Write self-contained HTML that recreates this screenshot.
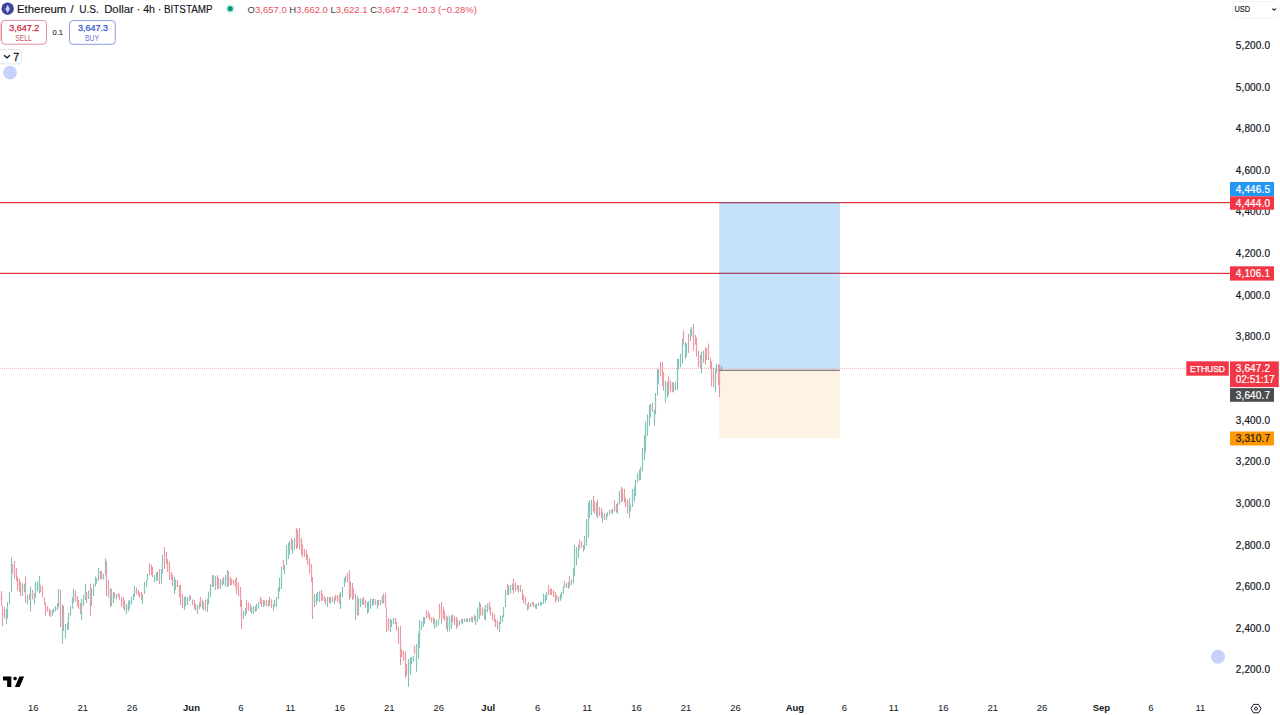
<!DOCTYPE html>
<html><head><meta charset="utf-8">
<style>
html,body{margin:0;padding:0;background:#fff;width:1280px;height:715px;overflow:hidden}
svg{display:block;font-family:"Liberation Sans",sans-serif}
</style></head><body>
<svg width="1280" height="715" viewBox="0 0 1280 715">
<rect x="0" y="0" width="1280" height="715" fill="#fff"/>
<!-- position tool -->
<rect x="719.2" y="202.6" width="120.7" height="166" fill="#c5e2fa"/>
<rect x="719.2" y="370.9" width="120.7" height="67.6" fill="#fef2e2"/>
<!-- red lines -->
<rect x="0" y="202" width="1230" height="1.2" fill="#e0303f"/>
<rect x="0" y="272.8" width="1230" height="1.2" fill="#e0303f"/>
<rect x="719.2" y="202" width="120.7" height="1.2" fill="#7a5a8a" fill-opacity=".6"/>
<rect x="719.2" y="272.8" width="120.7" height="1.2" fill="#7a5a8a" fill-opacity=".6"/>
<!-- dotted price line -->
<line x1="0" y1="368.4" x2="1186" y2="368.4" stroke="#f23645" stroke-width="1" stroke-dasharray="1 1" stroke-opacity=".4"/>
<!-- candles -->
<path d="M6.5 609V624M7.5 602V618.5M9.5 592V604.5M11.5 557.7V592M22.5 583.6V596M24.5 583.6V592M27.5 594.8V604.5M30.5 586.4V611.5M34.5 593.4V604.5M35.5 582V597.5M37.5 581.2V591.5M39.5 576V593.4M52.5 610V615.7M53.5 608.7V613M55.5 606V611.5M57.5 603V610M58.5 589V607.3M62.5 604.5V643.7M65.5 624V638M67.5 622.7V629.7M68.5 613V629.7M70.5 606V615.7M72.5 597.5V608.7M73.5 589V603M81.5 599V620M83.5 594.8V606M85.5 583.6V600M88.5 590.6V599M91.5 589V606M93.5 583.6V596M95.5 576.6V586.4M96.5 578V583.6M98.5 568V580.8M103.5 573.8V579.4M105.5 558.4V575.2M110.5 587.8V607.3M113.5 592V603M116.5 594.1V599.5M126.5 604V614M128.5 600.7V611.2M129.5 600V609M131.5 596.7V604.8M133.5 594V600M134.5 586V597M142.5 594V604M144.5 582V594M146.5 579.9V587.2M147.5 574V580M154.5 575V582M156.5 572.3V580.9M157.5 571.6V580.8M161.5 569V584M162.5 554.7V573.7M174.5 577V594M175.5 579.5V590.1M184.5 597V610M185.5 596.4V606.3M187.5 597V605M189.5 595V601.1M197.5 605V614M199.5 602.4V609.2M203.5 602V610M207.5 599V612M208.5 591.7V604.4M210.5 584V597M212.5 575V587M215.5 576.1V589.8M220.5 579V589M222.5 579.7V585.7M225.5 575V586.8M227.5 570V587M243.5 611V619M245.5 608V615.9M251.5 606.7V613.6M253.5 606V614M255.5 606V611.5M256.5 604V611M258.5 602.2V608.7M263.5 600V607M268.5 600.5V606.6M273.5 604V611M274.5 599.9V606.7M276.5 597V607M278.5 587V599M279.5 577.7V591.6M281.5 567V589M284.5 565V574M286.5 545V565M288.5 543V559M289.5 541V554.6M292.5 540V554M294.5 538.2V549.6M314.5 594V607M316.5 593.4V604.7M317.5 592V601M319.5 591.4V602.1M327.5 597V607M330.5 597V604M334.5 597V604M340.5 592V609M342.5 587V597M344.5 578V587M345.5 575.7V582.5M355.5 593.6V620M358.5 598.6V615M360.5 598.6V607M362.5 598.2V604.8M367.5 602V613.7M368.5 601.2V612.4M370.5 598.6V608.7M372.5 599V606M373.5 598.6V605M377.5 600V608.7M380.5 600V605M382.5 595.6V603.4M390.5 618.7V632M391.5 620V627M393.5 618V623.9M408.5 659V686.8M410.5 657.5V674.8M411.5 657V664M413.5 655.6V662M416.5 644V671.7M418.5 633.4V658.8M419.5 620V648M421.5 621.4V629.9M423.5 617V627M424.5 617V624M434.5 618.7V628.8M436.5 619.9V627.2M438.5 618.7V625.4M447.5 616.8V631.5M449.5 615.5V631.4M451.5 615.6V629.1M459.5 620.5V625.6M462.5 619V624M464.5 618.7V622.1M467.5 619V622.2M469.5 618V622M472.5 616.8V622.5M475.5 616V625M477.5 607.5V621.9M479.5 602V619M484.5 609V619M485.5 605V620.5M487.5 603.5V612.2M499.5 622V632M500.5 615.5V624M502.5 615.5V622M503.5 607V617M505.5 590V607M508.5 585.2V595.2M510.5 585V593.7M512.5 583.6V590M518.5 585.6V592.4M527.5 603.8V610.5M530.5 603.4V607.2M535.5 604.3V608.5M536.5 603.8V609M538.5 603V606M540.5 602V605.5M541.5 602V605.4M543.5 593.7V603.8M545.5 594.9V602.7M546.5 592V600M558.5 596.5V602M560.5 594.1V600.8M561.5 592V598.7M563.5 586.4V594M566.5 583.1V588.1M568.5 582V588.6M571.5 579.7V585M573.5 568.4V583.2M574.5 545V576M576.5 546.9V565.2M578.5 545V558M583.5 545V551.7M584.5 536V549.5M586.5 519V545.4M588.5 502.5V538M589.5 500V518M591.5 499.9V515M596.5 502.5V516.4M602.5 511.5V522.6M606.5 513.7V520M607.5 512.2V516.5M609.5 510V514.8M612.5 509V513.7M617.5 502.5V513.7M619.5 491V504.7M629.5 498V518M630.5 504.7V511.5M632.5 489V507M634.5 486.9V501.6M635.5 480V495.8M637.5 473.4V482.4M639.5 469.8V480.4M640.5 466.7V480M642.5 447.8V471.5M644.5 435.3V460M645.5 421.6V452.5M647.5 414.5V436M649.5 405V426M650.5 403.8V417.3M654.5 409.8V426M655.5 393V414.5M657.5 369V395.5M658.5 369.6V384.2M665.5 381V402.6M667.5 381.6V397.5M673.5 382.7V392.5M675.5 381.6V390.3M677.5 359V390M678.5 359V369.6M680.5 353.6V367.3M682.5 338.7V363.7M685.5 342.3V359M686.5 343.5V356.6M690.5 329.3V341M691.5 326.9V336.4M701.5 351.8V373.2M703.5 350.7V362.7M715.5 368.4V392.2M716.5 363.7V373.2M721.5 366V370.8" stroke="#3f978c" stroke-width="1" stroke-opacity=".65" fill="none"/><path d="M-0.5 591.2V603.7M1.5 591V606M2.5 606V626M4.5 606.9V618.3M12.5 564V573.8M14.5 561V579M16.5 568V580.8M17.5 576.6V590.6M19.5 579V592M20.5 582V596M25.5 576.6V603M29.5 593.4V600M32.5 589.9V599.3M40.5 585V592M42.5 586.4V597.5M44.5 597.5V604.5M45.5 603V615.7M47.5 606V611.5M49.5 608.7V615.7M50.5 610V617M60.5 590V627M63.5 606V631M75.5 590.6V601.7M77.5 596V606M78.5 600V608.7M80.5 603V614M86.5 592V603M90.5 583.6V615.7M100.5 571V579.4M101.5 571V579.4M106.5 561V596M108.5 580.3V597.5M111.5 589V606M114.5 592.3V598.8M118.5 593V597M119.5 594.6V599.8M121.5 597.4V606.6M123.5 597V609M124.5 600.3V610.6M136.5 587.5V594.4M138.5 590V596M139.5 592.2V597.7M141.5 592V600M149.5 563V575M151.5 564.5V575.2M152.5 567V577M159.5 569V584M164.5 547V569M166.5 552V564M167.5 559.3V572M169.5 562V580M171.5 572V580M172.5 574.9V586.3M177.5 580V587M179.5 585V597.2M180.5 585V605M182.5 593.8V608.3M190.5 596V600M192.5 599.4V605.3M194.5 600V609M195.5 603.9V610.8M200.5 597V607M202.5 599.7V608.8M205.5 599.6V610.8M213.5 575.3V586.9M217.5 575V589M218.5 578V588.8M223.5 577V584M228.5 571.5V586M230.5 576.9V585.5M231.5 579V585M233.5 579.9V584.9M235.5 579V587M236.5 577V594M238.5 582.1V596.1M240.5 587V607M241.5 600V629M246.5 600V614M248.5 602.6V610.9M250.5 604V612M260.5 597V604M261.5 599.4V606.6M264.5 600.4V605.7M266.5 600V606M269.5 597V606M271.5 599.3V607.9M283.5 560V570M291.5 538V550M296.5 528V549M297.5 529.8V548.2M299.5 528V550M301.5 538V555M302.5 544.4V557.2M304.5 549V557M306.5 550V560M307.5 554.1V564.8M309.5 558.5V573.6M311.5 564V582M312.5 577V619M321.5 590V601M322.5 593.8V600.7M324.5 596V602M325.5 598.2V604.6M329.5 596.8V602.7M332.5 596.7V602.2M335.5 594.7V600.6M337.5 595V602M339.5 593.9V604M347.5 572.6V582M349.5 570V600M350.5 581.6V597.8M352.5 583V600M353.5 588.5V598.6M357.5 595.7V615.8M363.5 597V605M365.5 599.5V608M375.5 599.2V604.8M378.5 599.8V605.5M383.5 593.6V603.6M385.5 592.7V607M386.5 607V632M388.5 618.2V630.8M395.5 618V624M396.5 622V630.5M398.5 627V644M400.5 626V665M401.5 649V657M403.5 650.6V660.7M405.5 651.6V678M406.5 664V675.8M414.5 645.6V654M426.5 610V618.7M428.5 611.6V617.9M429.5 613.7V620M431.5 617.4V622.6M433.5 617V624M439.5 603.6V618.7M441.5 602V624M443.5 607V619M444.5 610.5V620.9M446.5 615.5V629M452.5 614V622M454.5 615.6V625.2M456.5 617V629M457.5 619.2V626.9M461.5 619V623.3M466.5 618V622M471.5 616.7V621.6M474.5 614.7V620.5M480.5 603.8V615.5M482.5 607.2V615.7M489.5 602V610.5M490.5 607V615.5M492.5 612.2V620M494.5 614V622M495.5 619V627M497.5 620.3V629.7M507.5 583.6V595M513.5 578.6V593.7M515.5 582.9V591.3M517.5 585V590M520.5 585V592M522.5 590V600M523.5 594.5V603.2M525.5 597V605M528.5 602V609M532.5 602V605.4M533.5 602V607M548.5 585V595M550.5 588.7V595M551.5 588.4V594.9M553.5 590V597M555.5 592V603M556.5 594.9V600.4M564.5 580.8V587.5M569.5 576V587.5M579.5 539.4V549.5M581.5 541.1V547.8M593.5 496V511.5M594.5 501V513.7M597.5 500V518M599.5 507V516M601.5 507.9V518.1M604.5 512.9V519.8M611.5 509.6V513.4M614.5 500V511.5M616.5 504V512.5M621.5 486.8V502.5M622.5 488.8V501.2M624.5 489V502.5M625.5 498V507M627.5 499.7V513.4M652.5 402.6V412M660.5 362V376.5M662.5 362V386M663.5 371.8V390.8M668.5 376.5V395.5M670.5 380.4V392.2M672.5 382V391.8M683.5 330.4V344.7M688.5 334V353M693.5 323.9V350.6M695.5 335V344.7M696.5 337.6V356.6M698.5 350.6V367.3M700.5 354.8V368M705.5 347V364.9M706.5 348.3V360M708.5 343.5V360M710.5 357.8V368.4M711.5 361.3V386.3M713.5 368.4V387.4M718.5 364.2V385.3M719.5 364.9V397" stroke="#d85a68" stroke-width="1" stroke-opacity=".65" fill="none"/><path d="M6.5 611.7V620.8M7.5 606.7V614.9M9.5 595.4V601.1M11.5 561.6V580.5M22.5 586.4V594.3M24.5 584.3V589.8M27.5 597.6V603M30.5 592.9V602.8M34.5 594.9V602M35.5 584V595.2M37.5 581.8V588.6M39.5 578.8V589.2M52.5 611.6V614.5M53.5 609.2V611.7M55.5 607.5V610.7M57.5 604.6V608.3M58.5 590.2V605.1M62.5 615.7V639.1M65.5 627.7V636.3M67.5 624.6V628.9M68.5 615.3V626.1M70.5 608.7V613.4M72.5 598.4V606.8M73.5 590.1V600.8M81.5 601.9V617M83.5 596.1V604.8M85.5 587.4V598.3M88.5 593V597.2M91.5 592V602.5M93.5 585.4V592.2M95.5 578.8V584.2M96.5 578.8V581.7M98.5 570.9V576.9M103.5 575.1V578.7M105.5 559.9V572.4M110.5 590.2V604.2M113.5 595.2V601.2M116.5 595.7V598.6M126.5 605.5V612.8M128.5 601.3V610M129.5 601V607.4M131.5 598.2V602.8M133.5 595.3V598.3M134.5 589V593.9M142.5 596.1V600.8M144.5 585V590.6M146.5 581.2V586.2M147.5 575.6V578.6M154.5 575.4V580.9M156.5 573.5V579.8M157.5 573.4V578M161.5 569.8V580.7M162.5 559.2V568M174.5 579.9V590.7M175.5 582V587.3M184.5 597.8V608.7M185.5 598.6V604.6M187.5 598.8V602.8M189.5 596V599.7M197.5 607.6V611.3M199.5 603.2V607.8M203.5 603.4V608.9M207.5 601.3V608M208.5 594.5V600.3M210.5 587.6V594.9M212.5 575.6V585.7M215.5 577.3V587.4M220.5 581.6V586.1M222.5 581.4V584.9M225.5 576.7V584.8M227.5 573.4V581.1M243.5 612.5V616.3M245.5 608.5V613.7M251.5 607.6V612.1M253.5 607.9V612.6M255.5 606.6V609.6M256.5 604.9V609.2M258.5 603.2V607.1M263.5 600.7V605.4M268.5 601.3V605.8M273.5 605.7V608.7M274.5 600.9V605.3M276.5 598.4V604.7M278.5 587.8V596.8M279.5 581.8V589.3M281.5 570.9V586.1M284.5 566.1V572.6M286.5 548V561.8M288.5 547.6V555.6M289.5 544.6V550.3M292.5 543.8V550.1M294.5 540.4V547.1M314.5 595.5V605.3M316.5 595.9V601.8M317.5 593.6V599.9M319.5 592.9V599.5M327.5 598.1V604.8M330.5 597.9V602.1M334.5 598.1V602.1M340.5 595.8V605.5M342.5 589.5V595.5M344.5 579.6V584.4M345.5 577.7V581.5M355.5 599.3V614.6M358.5 600.3V611.7M360.5 599.3V604.1M362.5 598.6V604M367.5 605.3V609.6M368.5 602.3V610.3M370.5 601V605.3M372.5 600.5V605.3M373.5 599.5V603.8M377.5 601.2V607.2M380.5 600.7V604.2M382.5 597.6V601M390.5 620.7V630.6M391.5 621.7V624.9M393.5 618.4V623.2M408.5 660.6V677.5M410.5 660.4V672M411.5 659V661.6M413.5 656.3V660.7M416.5 646.7V662.5M418.5 639.3V651.1M419.5 626.8V639.4M421.5 622.6V627.7M423.5 618.4V625.2M424.5 617.5V621.9M434.5 619.4V627.6M436.5 621.6V625.6M438.5 619.4V624M447.5 618.3V627.3M449.5 617.3V628.8M451.5 619.3V627.3M459.5 621.8V624.5M462.5 619.6V623.4M464.5 619.1V621.7M467.5 619.4V621.1M469.5 618.6V620.7M472.5 617.2V620.6M475.5 617.3V623.6M477.5 608.9V619.9M479.5 605.4V616.2M484.5 610V616.3M485.5 606.6V617.7M487.5 605.1V609.6M499.5 623.9V630.2M500.5 616.8V622.4M502.5 617.4V619.9M503.5 608V615.1M505.5 591.7V602.2M508.5 587.8V593.2M510.5 587.4V591.9M512.5 584.2V588.6M518.5 586.8V591.1M527.5 604.3V609.5M530.5 604.5V606.8M535.5 604.7V607.3M536.5 605.2V608M538.5 603.3V605.1M540.5 602.7V604.8M541.5 602.3V604.7M543.5 596.5V601M545.5 596.3V601.8M546.5 592.5V597.7M558.5 597.1V600.8M560.5 595.7V598.8M561.5 592.6V597.3M563.5 587V592.3M566.5 583.9V587.5M568.5 582.4V587.1M571.5 581V583.5M573.5 569.3V579.8M574.5 549.5V569M576.5 548.4V559M578.5 548.9V553.9M583.5 546.9V549.4M584.5 539.3V547.6M586.5 520.8V536.6M588.5 511V531.3M589.5 504.9V515.5M591.5 503.7V512.4M596.5 505V514.1M602.5 512.5V519M606.5 515V518.5M607.5 513.4V515.7M609.5 510.9V513.7M612.5 509.7V512.5M617.5 504.3V510.4M619.5 494.2V502.7M629.5 501.2V512.9M630.5 506.6V509.9M632.5 490.9V504.6M634.5 487.8V497.8M635.5 482.2V494.2M637.5 474.7V481.3M639.5 471.9V478.7M640.5 468V476.7M642.5 451.8V465.4M644.5 442.3V456.7M645.5 424.3V447.5M647.5 419V433.3M649.5 410.2V419.3M650.5 405.4V414.6M654.5 412V422.1M655.5 396.5V408.9M657.5 375.2V386.6M658.5 373.7V381.8M665.5 385.1V400.4M667.5 383V392.2M673.5 383.9V390.8M675.5 383.9V389.3M677.5 366.1V380.8M678.5 361.8V368.5M680.5 355.8V363.3M682.5 342.8V356.6M685.5 343.3V356.4M686.5 346.6V354.2M690.5 330.7V337.7M691.5 328.4V334.1M701.5 357.9V367.1M703.5 352.3V359.3M715.5 373.9V387.2M716.5 364.9V370.9M721.5 366.3V370.1" stroke="#8ad6ca" stroke-width="1.6" stroke-opacity=".5" fill="none"/><path d="M-0.5 593.6V600.1M1.5 595.2V602.8M2.5 610.1V621.5M4.5 608.9V615.2M12.5 565.9V570.5M14.5 565.7V576.6M16.5 569V578.1M17.5 577.6V588.4M19.5 579.9V588.5M20.5 585.4V591.5M25.5 583.7V594M29.5 594.4V598.5M32.5 590.7V597.3M40.5 585.4V590.7M42.5 588.7V595M44.5 598V602.1M45.5 606.1V611.3M47.5 606.4V610.6M49.5 609.1V613.6M50.5 610.8V616.1M60.5 598.2V619.4M63.5 611.2V623.5M75.5 591.6V600.5M77.5 597V604.2M78.5 601.1V606.2M80.5 604.3V611.5M86.5 594.1V601.4M90.5 586.1V605.9M100.5 572.3V577.8M101.5 571.5V578.3M106.5 563.5V585.1M108.5 584.9V592.9M111.5 590.5V602.4M114.5 594.2V597.3M118.5 593.5V596.2M119.5 594.8V598.8M121.5 599V604.5M123.5 598.2V606.3M124.5 600.8V608.9M136.5 588.5V593.1M138.5 591.8V595.2M139.5 593.5V596.3M141.5 592.5V597.5M149.5 566V571.3M151.5 566.6V571.7M152.5 569.2V574.3M159.5 572.1V579.9M164.5 551V563.2M166.5 552.8V560.6M167.5 560.7V570.5M169.5 564.1V574.9M171.5 572.8V577.7M172.5 578.3V583.8M177.5 581.4V585.2M179.5 585.8V595.5M180.5 587.3V599.3M182.5 595.7V604.8M190.5 596.7V599.5M192.5 601V604.4M194.5 602.7V606M195.5 604.3V609.3M200.5 598V603.6M202.5 600.7V606.5M205.5 602.8V609.3M213.5 577.3V584.4M217.5 576.9V586.5M218.5 580.8V587.7M223.5 578.6V581.7M228.5 573.6V583M230.5 578V584.5M231.5 579.5V583.1M233.5 580.5V583.3M235.5 579.9V585.7M236.5 580V591.5M238.5 584.1V591.3M240.5 592.4V600.9M241.5 606V619.5M246.5 602.3V610M248.5 604.3V609.5M250.5 604.5V609.3M260.5 597.6V603M261.5 600.1V604.2M264.5 602V604.6M266.5 600.5V605.1M269.5 597.7V604.6M271.5 600.2V605.8M283.5 562.1V566.8M291.5 538.7V548.7M296.5 529.1V544.8M297.5 534.5V542.4M299.5 534.4V546.4M301.5 539.3V552.6M302.5 546.7V553.7M304.5 551.3V554.8M306.5 552.1V557.1M307.5 555.9V562.3M309.5 559.4V569.1M311.5 565.9V576.1M312.5 585.9V611.6M321.5 591.2V598.2M322.5 594.2V599.5M324.5 597V600M325.5 599.5V602.5M329.5 597.5V600.7M332.5 597V601M335.5 595.4V599M337.5 597V600.9M339.5 594.5V602.1M347.5 573.8V579.1M349.5 573.2V595.3M350.5 585.5V595M352.5 587.9V596.2M353.5 589.5V597M357.5 601.5V613.1M363.5 598.2V602.4M365.5 601.8V605.6M375.5 599.7V604.2M378.5 600.3V603.6M383.5 595.2V602.5M385.5 595.1V604.2M386.5 614V628.3M388.5 619.9V626.7M395.5 619.7V623M396.5 624V627.7M398.5 629.3V641.1M400.5 637.3V655.1M401.5 649.9V654.8M403.5 651.9V659M405.5 652.9V670.4M406.5 667.3V672.7M414.5 646.9V652.1M426.5 610.9V616.2M428.5 612.3V617.2M429.5 614.1V618.5M431.5 618.1V620.8M433.5 618.9V621.6M439.5 605.9V614.8M441.5 607.2V617.1M443.5 609.6V617.4M444.5 613.2V619.1M446.5 618.1V626.4M452.5 615.6V620.5M454.5 617V621.9M456.5 618.3V625.4M457.5 621.5V626M461.5 620.1V621.9M466.5 619.2V621M471.5 617.3V620.2M474.5 615.9V619M480.5 606.3V613.7M482.5 607.7V614.1M489.5 602.6V609.4M490.5 608.3V613.5M492.5 613.8V619M494.5 614.7V619.8M495.5 620.2V625.6M497.5 621.5V626.5M507.5 584.2V591.3M513.5 579.4V590.1M515.5 584.7V588.6M517.5 585.4V588.7M520.5 585.6V590.8M522.5 591.8V596.7M523.5 595.2V601.3M525.5 599V602.3M528.5 604.1V607.5M532.5 602.5V604.3M533.5 603V605.5M548.5 587.6V593.7M550.5 589.9V593.4M551.5 589.2V593.6M553.5 591.4V595.6M555.5 593.8V600.7M556.5 595.2V599M564.5 581.4V586.1M569.5 578.4V586.1M579.5 542V548M581.5 543.1V546.3M593.5 497.3V508M594.5 504.6V511.8M597.5 502.3V516M599.5 507.9V514.7M601.5 510.8V515.3M604.5 514.6V518.9M611.5 509.9V512.1M614.5 502.9V509.6M616.5 505.7V510.9M621.5 487.8V497.7M622.5 490.2V498M624.5 493V499.2M625.5 499.9V505.4M627.5 500.4V511.9M652.5 403.1V409.5M660.5 362.9V373.1M662.5 365.6V382.2M663.5 373V385.2M668.5 378.4V390.7M670.5 382.5V389.1M672.5 384.5V390.4M683.5 331.9V342.9M688.5 338.3V347.1M693.5 330.5V344.4M695.5 336.1V342.2M696.5 343.1V353.7M698.5 355.1V365.6M700.5 356.3V365.9M705.5 351.8V361.6M706.5 349.6V356.2M708.5 346.9V355.5M710.5 360.1V364.7M711.5 365.5V378.6M713.5 372.7V381.4M718.5 366.4V379.9M719.5 367.1V386.5" stroke="#f5a3ad" stroke-width="1.6" stroke-opacity=".5" fill="none"/>
<!-- entry line -->
<rect x="719.2" y="369.7" width="120.7" height="1.1" fill="#5d606b"/>
<!-- header -->
<circle cx="7.65" cy="8.7" r="6.2" fill="#3d4599"/>
<path d="M7.65 4.8L5.4 9L7.65 13.1L9.9 9Z" fill="#c9cdfc"/>
<g font-size="11" fill="#131722" stroke="#131722" stroke-width=".15">
<text x="17.0" y="13.1" textLength="49.3" lengthAdjust="spacingAndGlyphs">Ethereum</text>
<text x="70.4" y="13.1">/</text>
<text x="79.2" y="13.1" textLength="19.6" lengthAdjust="spacingAndGlyphs">U.S.</text>
<text x="104.2" y="13.1" textLength="29.6" lengthAdjust="spacingAndGlyphs">Dollar</text>
<text x="138.3" y="13.1" text-anchor="middle">·</text>
<text x="143.2" y="13.1" textLength="11.8" lengthAdjust="spacingAndGlyphs">4h</text>
<text x="159.6" y="13.1" text-anchor="middle">·</text>
<text x="164.0" y="13.1" textLength="48.6" lengthAdjust="spacingAndGlyphs">BITSTAMP</text>
</g>
<circle cx="230.2" cy="8.75" r="5" fill="#089981" fill-opacity=".12"/>
<circle cx="230.2" cy="8.75" r="2.7" fill="#089981"/>
<text x="247.6" y="12.9" font-size="9.5" fill="#e84f5e"><tspan fill="#3b3e47">O</tspan>3,657.0 <tspan fill="#3b3e47">H</tspan>3,662.0 <tspan fill="#3b3e47">L</tspan>3,622.1 <tspan fill="#3b3e47">C</tspan>3,647.2 −10.3 (−0.28%)</text>
<!-- sell / buy -->
<rect x="0" y="22.7" width="0.9" height="18.3" fill="#f5c4cb"/>
<rect x="1.5" y="20.4" width="45" height="23.8" rx="3.5" fill="#fff" stroke="#e0909d" stroke-width="1"/>
<text x="24.2" y="31.1" font-size="9" fill="#d02c40" stroke="#d02c40" stroke-width=".25" text-anchor="middle">3,647.2</text>
<text x="15.2" y="40.9" font-size="8.6" fill="#c65466" textLength="16.6" lengthAdjust="spacingAndGlyphs">SELL</text>
<text x="57.7" y="34.9" font-size="7.5" fill="#2a2e39" stroke="#2a2e39" stroke-width=".15" text-anchor="middle">0.1</text>
<rect x="69.5" y="20.6" width="45.8" height="23.7" rx="3.5" fill="#fff" stroke="#8d9de0" stroke-width="1"/>
<text x="93.1" y="31.1" font-size="9" fill="#3356d6" stroke="#3356d6" stroke-width=".25" text-anchor="middle">3,647.3</text>
<text x="85.0" y="40.9" font-size="8.6" fill="#6a7dd0" textLength="14.2" lengthAdjust="spacingAndGlyphs">BUY</text>
<!-- collapse -->
<rect x="-1" y="49.6" width="22.3" height="14.3" rx="2" fill="#fff" stroke="#e0e3eb" stroke-width="1"/>
<path d="M4 55.3L7 57.8L10 55.3" fill="none" stroke="#131722" stroke-width="1.3"/>
<text x="13.3" y="60.8" font-size="10.5" fill="#131722" stroke="#131722" stroke-width=".3">7</text>
<circle cx="10" cy="72.6" r="6.9" fill="#c7d1fb"/>
<circle cx="1218" cy="656.8" r="7" fill="#c7d1fb"/>
<!-- TV logo -->
<g transform="translate(3 674.1) scale(0.595 0.5833)" fill="#000">
<path d="M14 22H7V11H0V4h14v18zM28 22h-8l7.5-18h8L28 22z"/><circle cx="20.3" cy="7.7" r="3.1"/>
</g>
<!-- price axis -->
<text x="1270.2" y="48.95" font-size="10" fill="#131722" stroke="#131722" stroke-width=".2" letter-spacing=".15" text-anchor="end">5,200.0</text>
<text x="1270.2" y="90.58" font-size="10" fill="#131722" stroke="#131722" stroke-width=".2" letter-spacing=".15" text-anchor="end">5,000.0</text>
<text x="1270.2" y="132.21" font-size="10" fill="#131722" stroke="#131722" stroke-width=".2" letter-spacing=".15" text-anchor="end">4,800.0</text>
<text x="1270.2" y="173.84" font-size="10" fill="#131722" stroke="#131722" stroke-width=".2" letter-spacing=".15" text-anchor="end">4,600.0</text>
<text x="1270.2" y="215.47" font-size="10" fill="#131722" stroke="#131722" stroke-width=".2" letter-spacing=".15" text-anchor="end">4,400.0</text>
<text x="1270.2" y="257.10" font-size="10" fill="#131722" stroke="#131722" stroke-width=".2" letter-spacing=".15" text-anchor="end">4,200.0</text>
<text x="1270.2" y="298.73" font-size="10" fill="#131722" stroke="#131722" stroke-width=".2" letter-spacing=".15" text-anchor="end">4,000.0</text>
<text x="1270.2" y="340.36" font-size="10" fill="#131722" stroke="#131722" stroke-width=".2" letter-spacing=".15" text-anchor="end">3,800.0</text>
<text x="1270.2" y="423.62" font-size="10" fill="#131722" stroke="#131722" stroke-width=".2" letter-spacing=".15" text-anchor="end">3,400.0</text>
<text x="1270.2" y="465.25" font-size="10" fill="#131722" stroke="#131722" stroke-width=".2" letter-spacing=".15" text-anchor="end">3,200.0</text>
<text x="1270.2" y="506.88" font-size="10" fill="#131722" stroke="#131722" stroke-width=".2" letter-spacing=".15" text-anchor="end">3,000.0</text>
<text x="1270.2" y="548.51" font-size="10" fill="#131722" stroke="#131722" stroke-width=".2" letter-spacing=".15" text-anchor="end">2,800.0</text>
<text x="1270.2" y="590.14" font-size="10" fill="#131722" stroke="#131722" stroke-width=".2" letter-spacing=".15" text-anchor="end">2,600.0</text>
<text x="1270.2" y="631.77" font-size="10" fill="#131722" stroke="#131722" stroke-width=".2" letter-spacing=".15" text-anchor="end">2,400.0</text>
<text x="1270.2" y="673.40" font-size="10" fill="#131722" stroke="#131722" stroke-width=".2" letter-spacing=".15" text-anchor="end">2,200.0</text>
<rect x="1230" y="182" width="44" height="14.3" fill="#2196f3"/><text x="1270.2" y="192.70" font-size="10" fill="#fff" stroke="#fff" stroke-width=".2" letter-spacing=".15" text-anchor="end">4,446.5</text>
<rect x="1230" y="196.3" width="44" height="13.4" fill="#f23645"/><text x="1270.2" y="206.55" font-size="10" fill="#fff" stroke="#fff" stroke-width=".2" letter-spacing=".15" text-anchor="end">4,444.0</text>
<rect x="1230" y="266.3" width="44" height="14.3" fill="#f23645"/><text x="1270.2" y="277.00" font-size="10" fill="#fff" stroke="#fff" stroke-width=".2" letter-spacing=".15" text-anchor="end">4,106.1</text>
<rect x="1186.3" y="361.3" width="42.5" height="14.4" fill="#f23645"/><text x="1207.5" y="371.9" font-size="8.5" fill="#fff" stroke="#fff" stroke-width=".25" text-anchor="middle">ETHUSD</text>
<rect x="1230" y="361.4" width="48.8" height="25.7" fill="#f23645"/><text x="1270.2" y="371.8" font-size="10" fill="#fff" stroke="#fff" stroke-width=".2" letter-spacing=".15" text-anchor="end">3,647.2</text><text x="1274.7" y="383.0" font-size="10" fill="#fff" stroke="#fff" stroke-width=".2" text-anchor="end">02:51:17</text>
<rect x="1230" y="388.1" width="44" height="13.7" fill="#4b4c4f"/><text x="1270.2" y="398.50" font-size="10" fill="#fff" stroke="#fff" stroke-width=".2" letter-spacing=".15" text-anchor="end">3,640.7</text>
<rect x="1230" y="431.5" width="44" height="14" fill="#ff9800"/><text x="1270.2" y="442.05" font-size="10" fill="#131722" stroke="#131722" stroke-width=".2" letter-spacing=".15" text-anchor="end">3,310.7</text>
<!-- time axis -->
<text x="33.25" y="711.4" font-size="9.5"  fill="#131722" text-anchor="middle">16</text>
<text x="82.70" y="711.4" font-size="9.5"  fill="#131722" text-anchor="middle">21</text>
<text x="132.16" y="711.4" font-size="9.5"  fill="#131722" text-anchor="middle">26</text>
<text x="191.51" y="711.4" font-size="9.5" font-weight="bold" fill="#131722" text-anchor="middle">Jun</text>
<text x="240.96" y="711.4" font-size="9.5"  fill="#131722" text-anchor="middle">6</text>
<text x="290.42" y="711.4" font-size="9.5"  fill="#131722" text-anchor="middle">11</text>
<text x="339.87" y="711.4" font-size="9.5"  fill="#131722" text-anchor="middle">16</text>
<text x="389.33" y="711.4" font-size="9.5"  fill="#131722" text-anchor="middle">21</text>
<text x="438.78" y="711.4" font-size="9.5"  fill="#131722" text-anchor="middle">26</text>
<text x="488.24" y="711.4" font-size="9.5" font-weight="bold" fill="#131722" text-anchor="middle">Jul</text>
<text x="537.69" y="711.4" font-size="9.5"  fill="#131722" text-anchor="middle">6</text>
<text x="587.15" y="711.4" font-size="9.5"  fill="#131722" text-anchor="middle">11</text>
<text x="636.60" y="711.4" font-size="9.5"  fill="#131722" text-anchor="middle">16</text>
<text x="686.06" y="711.4" font-size="9.5"  fill="#131722" text-anchor="middle">21</text>
<text x="735.51" y="711.4" font-size="9.5"  fill="#131722" text-anchor="middle">26</text>
<text x="794.86" y="711.4" font-size="9.5" font-weight="bold" fill="#131722" text-anchor="middle">Aug</text>
<text x="844.31" y="711.4" font-size="9.5"  fill="#131722" text-anchor="middle">6</text>
<text x="893.77" y="711.4" font-size="9.5"  fill="#131722" text-anchor="middle">11</text>
<text x="943.22" y="711.4" font-size="9.5"  fill="#131722" text-anchor="middle">16</text>
<text x="992.68" y="711.4" font-size="9.5"  fill="#131722" text-anchor="middle">21</text>
<text x="1042.13" y="711.4" font-size="9.5"  fill="#131722" text-anchor="middle">26</text>
<text x="1101.48" y="711.4" font-size="9.5" font-weight="bold" fill="#131722" text-anchor="middle">Sep</text>
<text x="1150.93" y="711.4" font-size="9.5"  fill="#131722" text-anchor="middle">6</text>
<text x="1200.39" y="711.4" font-size="9.5"  fill="#131722" text-anchor="middle">11</text>
<!-- USD -->
<rect x="1232.5" y="1.5" width="45.5" height="16.5" rx="2" fill="#fff" stroke="#f0f3fa" stroke-width="1"/>
<text x="1234.5" y="11.8" font-size="8.5" fill="#131722" textLength="15.6" lengthAdjust="spacingAndGlyphs" stroke="#131722" stroke-width=".15">USD</text>
<path d="M1272.3 8.6L1274.2 10L1276.1 8.6" fill="none" stroke="#131722" stroke-width="1.1"/>
<!-- gear -->
<path d="M1253.5 704.4H1258.5L1261 708.6L1258.5 712.8H1253.5L1251 708.6Z" fill="none" stroke="#131722" stroke-width="1"/>
<circle cx="1256" cy="708.6" r="1.5" fill="none" stroke="#131722" stroke-width="1"/>
</svg>
</body></html>
